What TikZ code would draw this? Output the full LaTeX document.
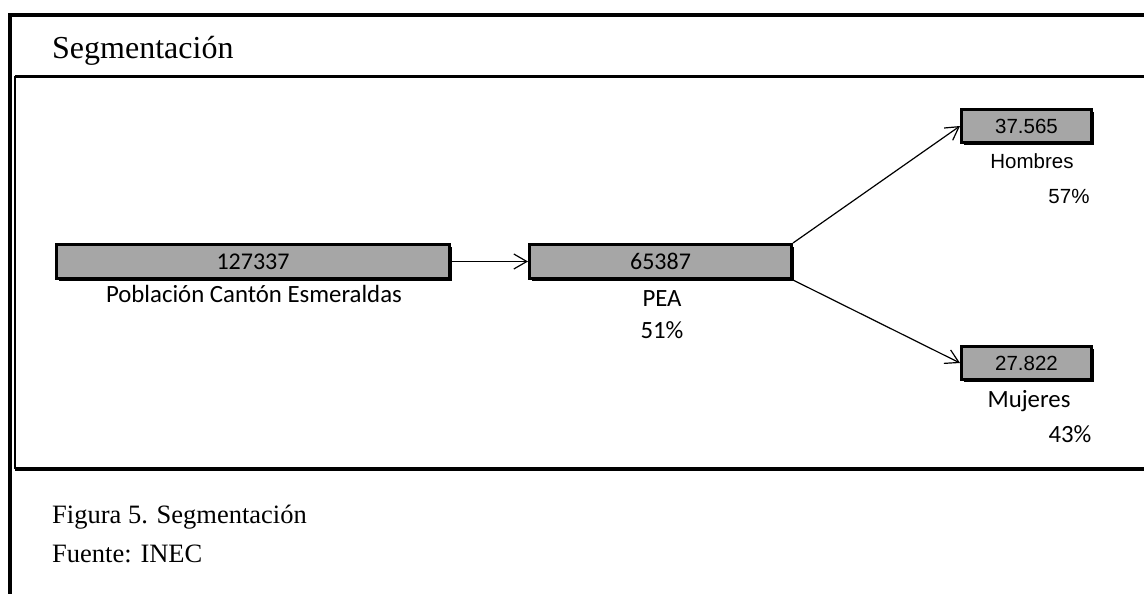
\documentclass[tikz,border=0pt]{standalone}
\usepackage{fontspec}
\setmainfont{Carlito}
\newfontfamily\arialfont{Liberation Sans}
\newfontfamily\timesfont{Liberation Serif}
\usetikzlibrary{arrows.meta, shadows}
\definecolor{boxgray}{HTML}{A6A6A6}
\tikzset{
>={Straight Barb[length=13pt,width=15pt]}, % open arrow heads
box/.style={draw, line width=3pt, fill=boxgray, inner sep=0pt,
  general shadow={fill=black, shadow xshift=2pt, shadow yshift=-2pt}}, % grey value boxes
link/.style={->, line width=1.2pt}, % connectors between boxes
lbl/.style={font=\fontsize{24.8}{28}\selectfont, inner sep=0pt, anchor=base}, % Calibri-like labels
albl/.style={font=\arialfont\fontsize{20.5}{24}\selectfont, inner sep=0pt, anchor=base}, % Arial-like labels
capline/.style={font=\timesfont\fontsize{26.5}{30}\selectfont, inner sep=0pt, anchor=base west}, % caption lines
}

\begin{document}
\begin{tikzpicture}[x=1pt, y=-1pt]
    \useasboundingbox (0,0) rectangle (1144,594);
    % frames
    \draw[line width=4pt] (10,594) -- (10,15) -- (1144,15);
    \draw[line width=3.5pt] (1144,76.5) -- (15,76.5);
    \draw[line width=3.5pt] (15,469) -- (1144,469);
    \draw[line width=2pt] (15,76.5) -- (15,469);
    \node[anchor=base west, font=\timesfont\fontsize{32}{36}\selectfont, inner sep=0pt] (title) at (52,59) {Segmentación};

    % boxes
    \node[box, minimum width=393pt, minimum height=34pt, font=\fontsize{24}{28}\selectfont] (pob) at (253,261.5) {127337};
    \node[box, minimum width=262pt, minimum height=34pt, font=\fontsize{24}{28}\selectfont] (pea) at (660.5,261.5) {65387};
    \node[box, minimum width=130pt, minimum height=33pt, font=\arialfont\fontsize{20.5}{24}\selectfont] (hom) at (1026.5,126) {37.565};
    \node[box, minimum width=130pt, minimum height=33pt, font=\arialfont\fontsize{20.5}{24}\selectfont] (muj) at (1026.5,363) {27.822};

    \node[lbl] (pobtxt) at (254,302) {Población Cantón Esmeraldas};
    \node[lbl] (peatxt) at (662,306) {PEA};
    \node[lbl] (peapct) at (662,338) {51\%};
    \node[albl] (homtxt) at (1032,168) {Hombres};
    \node[albl] (hompct) at (1069,203) {57\%};
    \node[lbl] (mujtxt) at (1029,407) {Mujeres};
    \node[lbl] (mujpct) at (1070,442) {43\%};

    \draw[link] (pob.east) -- (pea.west);
    \draw[link] (pea.north east) -- (hom.west);
    \draw[link] (pea.south east) -- (muj.west);

    \node[capline] (fig) at (52,523) {Figura 5. Segmentación};
    \node[capline] (src) at (52,562) {Fuente: INEC};
  \end{tikzpicture}
\end{document}
